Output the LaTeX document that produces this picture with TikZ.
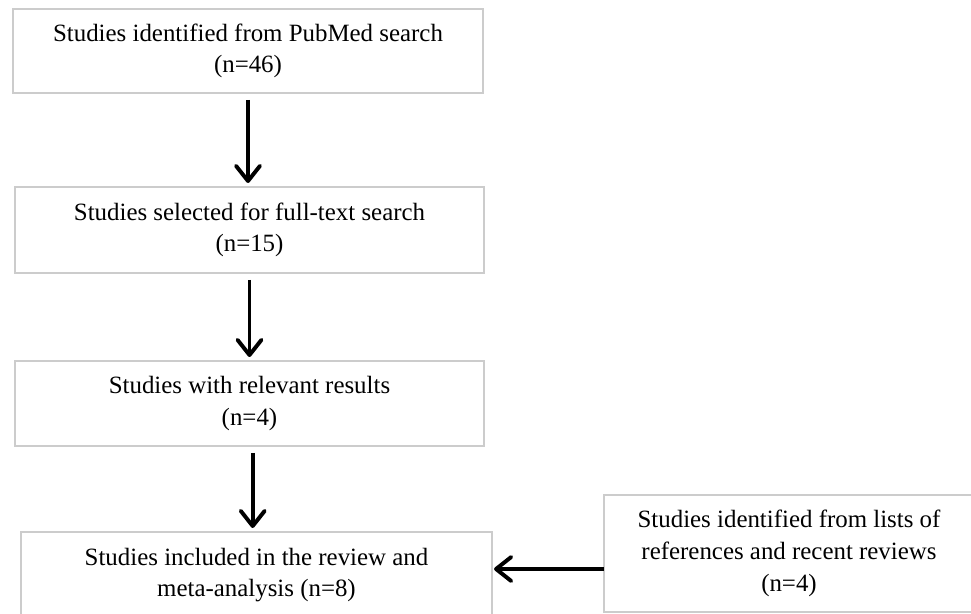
\documentclass[tikz,border=0pt]{standalone}
\usepackage{fontspec}
\setmainfont{Liberation Serif}
\usetikzlibrary{arrows.meta}
\definecolor{boxgray}{RGB}{204,204,204}
\begin{document}
\begin{tikzpicture}[x=0.025cm,y=-0.025cm,inner sep=0pt,outer sep=0pt,
stage/.style={draw=boxgray,line width=1.4pt,rectangle,align=center,minimum width=11.75cm,minimum height=2.15cm,font=\fontsize{17.7}{22.5}\selectfont},
flow/.style={-{Straight Barb[length=3.8mm,width=6mm,round]},line width=2.8pt,shorten <=0.17cm,shorten >=0.1cm}]
\useasboundingbox (0,0) rectangle (971,613);
\clip (0,0) rectangle (971,613);

\draw (248,51) node[stage,minimum height=2.1cm] (pubmed) {Studies identified from PubMed search\\(n=46)};
\draw (249.5,230) node[stage,minimum width=11.725cm] (fulltext) {Studies selected for full-text search\\(n=15)};
\draw (249.5,403.5) node[stage,minimum width=11.725cm,minimum height=2.125cm] (relevant) {Studies with relevant results\\(n=4)};
\draw (256.5,575) node[stage,minimum width=11.775cm] (included) {Studies included in the review and\\meta-analysis (n=8)};
\draw (789,553.5) node[stage,minimum width=9.25cm,minimum height=2.925cm] (extra) {Studies identified from lists of\\references and recent reviews\\(n=4)};

\draw[flow] (pubmed.south) -- (pubmed.south |- fulltext.north);
\draw[flow] (fulltext.south) -- (fulltext.south |- relevant.north);
\draw[flow] ([xshift=0.08cm]relevant.south) -- ([xshift=0.08cm]relevant.south |- included.north);
\draw[flow,shorten <=0pt,shorten >=0.05cm] ([yshift=0.15cm]included.east -| extra.west) -- ([yshift=0.15cm]included.east);
\end{tikzpicture}
\end{document}
